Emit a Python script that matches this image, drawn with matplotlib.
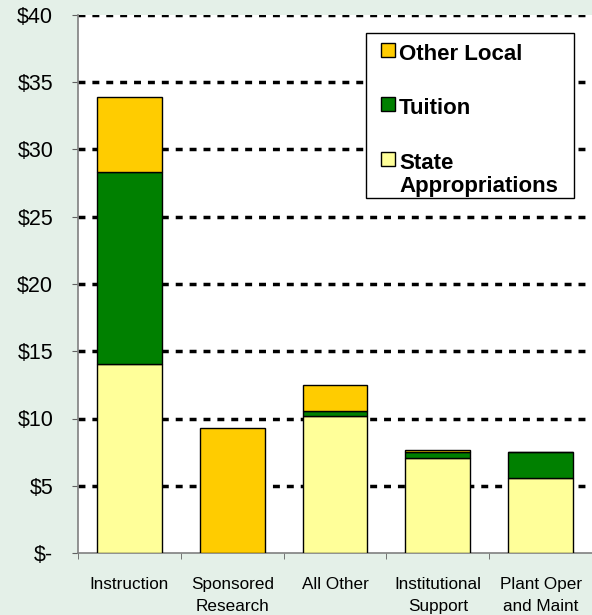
import matplotlib.pyplot as plt
from matplotlib.patches import Rectangle
import numpy as np

categories = ['Instruction', 'Sponsored\nResearch', 'All Other', 'Institutional\nSupport', 'Plant Oper\nand Maint']
state = [14.05, 0.0, 10.2, 7.1, 5.55]
tuition = [14.25, 0.0, 0.35, 0.4, 1.95]
other_local = [5.6, 9.3, 1.95, 0.15, 0.0]
yticks = [0, 5, 10, 15, 20, 25, 30, 35, 40]
ylabels = ['$-', '$5', '$10', '$15', '$20', '$25', '$30', '$35', '$40']
series_names = ['Other Local', 'Tuition', 'State\nAppropriations']
series_colors = ['#FFCC00', '#008000', '#FFFF99']

plt.rcParams['font.family'] = ['Liberation Sans', 'DejaVu Sans']

W, H = 592, 615
fig = plt.figure(figsize=(W / 100, H / 100), dpi=100)
fig.patch.set_facecolor('#E4F0E8')
ax = fig.add_axes([78 / W, 1 - 553 / H, 1 - 78 / W, 538 / H])
ax.set_facecolor('white')

x = np.arange(len(categories))
w = 0.63
s = np.array(state)
t = np.array(tuition)
o = np.array(other_local)
ax.bar(x, s, w, color='#FFFF99', edgecolor='black', linewidth=1, zorder=3)
ax.bar(x, t, w, bottom=s, color='#008000', edgecolor='black', linewidth=1, zorder=3)
ax.bar(x, o, w, bottom=s + t, color='#FFCC00', edgecolor='black', linewidth=1, zorder=3)

for yv in yticks[1:]:
    ax.axhline(yv, color='black', linestyle=(0, (2, 2)), linewidth=2.5, zorder=1)

ax.set_xlim(-0.5, 4.47)
ax.set_ylim(0, 40)
ax.set_yticks(yticks)
ax.set_yticklabels(ylabels, fontsize=15.5)
ax.set_xticks(x)
ax.set_xticklabels(categories, fontsize=12.3, linespacing=1.6)
ax.tick_params(axis='x', length=0, pad=17)
ax.set_xticks(np.arange(-0.5, 4.6, 1), minor=True)
ax.tick_params(axis='x', which='minor', length=4.3, color='#606060', direction='out')
ax.tick_params(axis='y', length=4.3, color='#606060', direction='out', pad=13.5)

for side in ['top', 'right']:
    ax.spines[side].set_visible(False)
for side in ['left', 'bottom']:
    ax.spines[side].set_color('#808080')
    ax.spines[side].set_linewidth(1.2)

# legend drawn by hand in axes pixel fractions
aw, ah = 514, 538
def ax_xy(px, py):
    return (px - 78) / aw, (553 - py) / ah

bx0, by0 = ax_xy(366, 198)
bx1, by1 = ax_xy(574, 33)
ax.add_patch(Rectangle((bx0, by0), bx1 - bx0, by1 - by0, transform=ax.transAxes,
                       facecolor='white', edgecolor='black', linewidth=1, zorder=5))
handle_y = [50, 104, 159]
for name, col, hy in zip(series_names, series_colors, handle_y):
    hx, hyy = ax_xy(381, hy + 7)
    ax.add_patch(Rectangle((hx, hyy), 14 / aw, 14 / ah, transform=ax.transAxes,
                           facecolor=col, edgecolor='black', linewidth=1, zorder=6))
    tx, ty = ax_xy(399, hy - 6)
    ax.text(tx, ty, name, transform=ax.transAxes, fontsize=16, fontweight='bold',
            va='top', ha='left', linespacing=1.15, zorder=7)

fig.savefig('out.png', dpi=100, facecolor=fig.get_facecolor())
